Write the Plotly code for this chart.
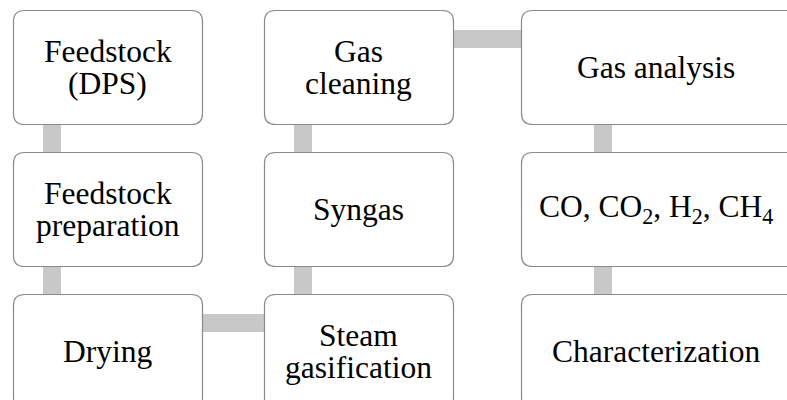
import plotly.graph_objects as go

# ---- diagram content ----
labels = [
    ["Feedstock", "(DPS)"],
    ["Feedstock", "preparation"],
    ["Drying"],
    ["Steam", "gasification"],
    ["Syngas"],
    ["Gas", "cleaning"],
    ["Gas analysis"],
    ["CO, CO<sub>2</sub>, H<sub>2</sub>, CH<sub>4</sub>"],
    ["Characterization"],
]
node_col = [0, 0, 0, 1, 1, 1, 2, 2, 2]
node_row = [0, 1, 2, 2, 1, 0, 0, 1, 2]
links = [(0, 1), (1, 2), (2, 3), (3, 4), (4, 5), (5, 6), (6, 7), (7, 8)]

# ---- layout geometry (pixels) ----
W, H = 787, 400
col_x0 = [13, 264, 521]
col_x1 = [202, 453, 800]
col_tx = [107.5, 358.5, 656]
col_conn = [43, 294, 594]  # left edge of vertical connector
row_y0 = [10, 152, 294]
row_y1 = [124, 266, 408]
conn_w = 18
hconn_off = 20
R = 11
LINE_GAP = 32
FONT_SIZE = 31.5

def rrect(x0, y0, x1, y1, r):
    return (f"M {x0+r},{y0} L {x1-r},{y0} Q {x1},{y0} {x1},{y0+r} "
            f"L {x1},{y1-r} Q {x1},{y1} {x1-r},{y1} L {x0+r},{y1} "
            f"Q {x0},{y1} {x0},{y1-r} L {x0},{y0+r} Q {x0},{y0} {x0+r},{y0} Z")

shapes = []
for a, b in links:
    ca, ra, cb, rb = node_col[a], node_row[a], node_col[b], node_row[b]
    if ca == cb:
        top, bot = min(ra, rb), max(ra, rb)
        shapes.append(dict(type="rect", xref="x", yref="y", layer="below",
                           x0=col_conn[ca], x1=col_conn[ca] + conn_w,
                           y0=row_y1[top] - 2, y1=row_y0[bot] + 2,
                           fillcolor="#c8c8c8", line=dict(width=0)))
    else:
        left, right = min(ca, cb), max(ca, cb)
        shapes.append(dict(type="rect", xref="x", yref="y", layer="below",
                           x0=col_x1[left] - 2, x1=col_x0[right] + 2,
                           y0=row_y0[ra] + hconn_off, y1=row_y0[ra] + hconn_off + conn_w,
                           fillcolor="#c8c8c8", line=dict(width=0)))

annotations = []
for i, lab in enumerate(labels):
    c, r = node_col[i], node_row[i]
    shapes.append(dict(type="path", xref="x", yref="y", layer="below",
                       path=rrect(col_x0[c] + 0.5, row_y0[r] + 0.5, col_x1[c] + 0.5, row_y1[r] + 0.5, R),
                       fillcolor="white", line=dict(color="#8a8a8a", width=1.2)))
    cy = (row_y0[r] + min(row_y1[r], 408)) / 2
    n = len(lab)
    for k, line in enumerate(lab):
        y = cy + (k - (n - 1) / 2) * LINE_GAP
        annotations.append(dict(x=col_tx[c], y=y, xref="x", yref="y", text=line,
                                showarrow=False, xanchor="center", yanchor="middle",
                                font=dict(family="Liberation Serif", size=FONT_SIZE, color="black")))

fig = go.Figure()
fig.update_layout(
    width=W, height=H, margin=dict(l=0, r=0, t=0, b=0),
    paper_bgcolor="white", plot_bgcolor="white",
    xaxis=dict(range=[0, W], visible=False, fixedrange=True),
    yaxis=dict(range=[H, 0], visible=False, fixedrange=True),
    shapes=shapes, annotations=annotations, showlegend=False,
)
fig.write_html("out.html", config={"displayModeBar": False},
               post_script="document.body.style.margin='0';document.body.style.overflow='hidden';")
